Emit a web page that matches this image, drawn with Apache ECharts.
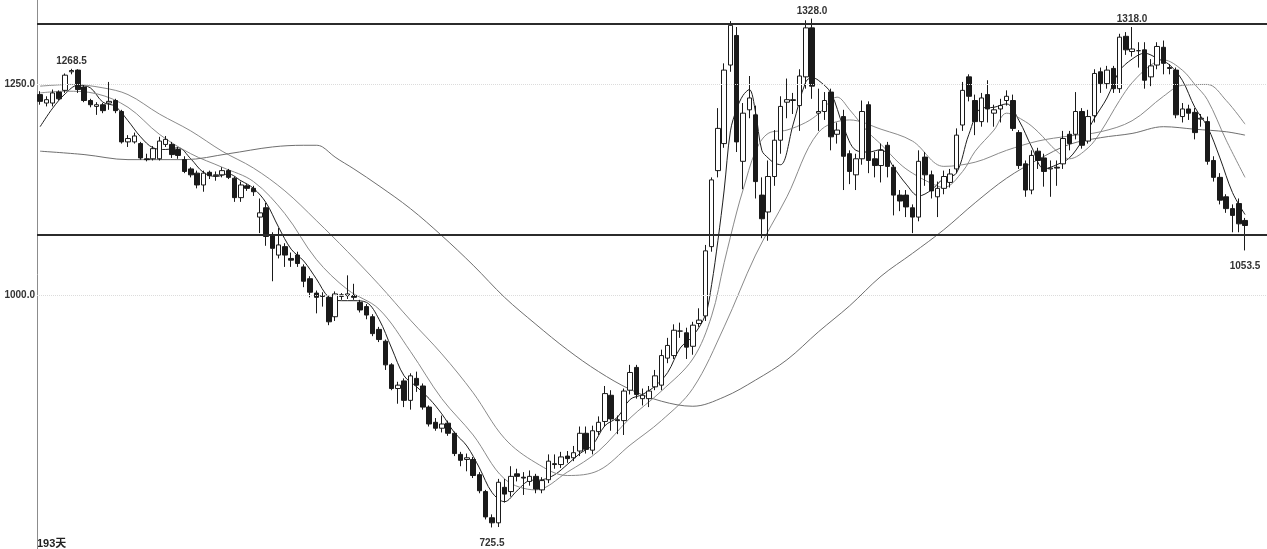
<!DOCTYPE html>
<html><head><meta charset="utf-8">
<script src="https://cdn.jsdelivr.net/npm/echarts@6/dist/echarts.min.js"></script>
<style>html,body{margin:0;padding:0;background:#fff}#c{width:1267px;height:549px}</style>
</head><body><div id="c"></div>
<script>
const open = [
1238,1228,1228,1241,1243,1265,1267,1247,1231,1224,
1226,1228,1231,1218,1182,1182,1180,1162,1162,1162,
1179,1179,1173,1161,1150,1145,1131,1146,1142,1143,
1148,1139,1116,1130,1127,1093,1104,1072,1048,1058,
1044,1048,1034,1020,1003,999,998,975,999,1000,
1000,992,987,975,960,946,918,890,899,876,
902,893,868,850,843,849,837,812,806,806,
788,768,737,731,773,768,789,785,780,786,
770,782,801,800,810,808,816,837,817,839,
851,882,853,852,888,915,878,878,892,894,
926,929,958,956,940,967,976,1058,1148,1180,
1273,1308,1159,1220,1214,1119,1099,1141,1184,1229,
1231,1225,1259,1317,1216,1218,1241,1191,1212,1168,
1143,1162,1226,1162,1154,1178,1152,1119,1119,1104,
1093,1164,1143,1117,1127,1134,1150,1202,1259,1231,
1206,1238,1216,1221,1231,1231,1193,1156,1125,1171,
1163,1150,1152,1156,1191,1191,1218,1183,1213,1265,
1251,1269,1245,1307,1289,1290,1291,1259,1273,1294,
1270,1267,1212,1221,1217,1209,1206,1160,1140,1117,
1103,1109,1089];
const close = [
1230,1232,1240,1233,1261,1266.5,1244,1231,1226,1226,
1219,1230,1219,1182,1186,1189,1163,1161,1174,1183,
1185,1167,1166,1147,1143,1131,1145,1142,1143,1148,
1140,1116,1131,1127,1123,1098,1070,1056,1060,1048,
1042,1038,1017,1004,998,1000,969,1002,1001,1002,
998,983,977,955,948,918,890,894,876,905,
894,868,848,843,848,837,813,805,808,787,
769,738,731,779,765,786,786,784,786,771,
781,804,800,809,807,814,837,818,840,850,
884,854,852,887,909,883,882,887,905,929,
941,959,958,939,965,971,1053,1137,1198,1267,
1320,1182,1216,1234,1135,1091,1141,1184,1224,1232,
1232,1260,1317,1248,1218,1231,1188,1196,1165,1147,
1162,1218,1160,1154,1172,1153,1119,1112,1105,1093,
1159,1143,1124,1127,1141,1144,1190,1243,1236,1206,
1234,1221,1220,1225,1236,1198,1154,1125,1166,1160,
1147,1151,1151,1186,1180,1218,1178,1212,1263,1251,
1267,1245,1306,1291,1292,1290,1255,1272,1295,1275,
1269,1214,1221,1216,1193,1210,1159,1140,1113,1103,
1095,1085,1083];
const low = [
1226,1224,1224,1231,1240,1262,1240,1229,1223,1214,
1216,1220,1216,1180,1176,1180,1161,1159,1160,1160,
1176,1163,1162,1145,1140,1127,1123,1138,1136,1140,
1138,1111,1111,1124,1118,1074,1059,1017,1044,1034,
1034,1034,1010,998,979,987,965,970,995,996,
995,980,972,952,945,912,888,872,868,865,
886,865,845,840,838,834,810,798,792,784,
766,735,725.5,726,755,762,780,764,775,766,
766,778,795,796,802,804,810,813,812,835,
845,840,836,835,883,878,870,868,888,888,
920,925,950,925,930,963,970,1052,1140,1175,
1265,1170,1126,1210,1115,1068,1065,1130,1168,1210,
1215,1195,1245,1233,1195,1208,1172,1180,1125,1132,
1125,1155,1145,1140,1134,1140,1095,1100,1093,1074,
1088,1130,1115,1093,1120,1128,1145,1195,1230,1190,
1200,1205,1200,1205,1225,1195,1150,1117,1120,1150,
1129,1117,1130,1150,1172,1185,1174,1180,1205,1240,
1245,1240,1240,1285,1283,1270,1245,1248,1268,1262,
1262,1210,1205,1208,1185,1200,1155,1135,1108,1098,
1075,1075,1053.5];
const high = [
1242,1236,1244,1243,1263,1268.5,1268,1250,1233,1229,
1228,1253,1233,1220,1190,1193,1182,1168,1177,1188,
1189,1182,1176,1165,1152,1148,1148,1148,1147,1152,
1150,1141,1135,1132,1130,1115,1110,1075,1080,1062,
1051,1052,1037,1023,1006,1004,1000,1005,1003,1024,
1014,995,990,978,963,948,920,898,902,908,
910,896,870,855,858,852,839,815,813,809,
791,770,741,783,783,798,795,791,793,789,
785,812,812,815,816,822,845,845,846,857,
893,888,858,890,918,918,890,893,912,936,
950,966,968,962,969,985,1060,1140,1222,1275,
1325,1318,1228,1260,1225,1140,1160,1196,1236,1257,
1240,1268,1326,1328,1245,1241,1245,1205,1220,1172,
1168,1231,1230,1170,1180,1182,1155,1125,1125,1108,
1172,1170,1148,1135,1148,1150,1198,1253,1262,1238,
1240,1255,1226,1233,1243,1238,1196,1160,1172,1175,
1168,1160,1160,1195,1195,1241,1222,1220,1268,1270,
1272,1272,1310,1312,1318,1300,1300,1280,1300,1302,
1274,1270,1228,1226,1222,1215,1212,1165,1145,1120,
1108,1115,1092];

// moving averages: [day index, value]
const ma5 = [[0,1200],[2,1222],[4,1239],[6,1249],[8,1246],[10,1229],[12,1224],[14,1207],[16,1188],[18,1175],[20,1173],[22,1175],[24,1162],[26,1146],[28,1141],[30,1144],[32,1136],[34,1127],[36,1110],[38,1081],[40,1055],[42,1041],[44,1020],[46,998],[48,994],[50,994],[52,992],[54,972],[56,938],[58,905],[60,892],[62,878],[64,860],[66,838],[68,822],[70,796],[72,767],[74,756],[76,769],[78,781],[80,782],[82,788],[84,800],[86,813],[88,823],[90,846],[92,856],[94,877],[96,883],[98,893],[100,909],[102,938],[104,952],[106,977],[107,1013],[108,1065],[109,1125],[110,1195],[111,1221],[112,1237],[113,1244],[114,1217],[115,1172],[116,1163],[117,1157],[118,1155],[120,1203],[122,1253],[123,1258],[124,1255],[126,1240],[128,1200],[130,1172],[132,1170],[134,1173],[136,1152],[138,1132],[140,1118],[142,1125],[144,1139],[146,1145],[148,1191],[150,1222],[152,1223],[154,1227],[156,1207],[158,1176],[160,1150],[162,1155],[164,1163],[166,1183],[168,1210],[170,1234],[172,1266],[174,1280],[176,1287],[178,1281],[180,1273],[182,1255],[184,1223],[186,1200],[188,1163],[190,1122],[192,1096]];
const ma10 = [[0,1240],[4,1242],[9,1239],[14,1223],[19,1191],[24,1168],[29,1152],[34,1135],[39,1097],[44,1043],[49,1007],[54,984],[59,934],[64,878],[69,835],[74,783],[79,770],[84,791],[89,816],[94,855],[99,887],[104,925],[107,976],[109,1039],[111,1099],[112,1125],[114,1171],[116,1192],[119,1196],[122,1205],[124,1215],[127,1235],[129,1220],[132,1193],[134,1179],[137,1156],[139,1145],[142,1133],[144,1128],[147,1147],[149,1171],[152,1196],[154,1216],[157,1206],[159,1194],[162,1171],[164,1162],[167,1175],[169,1194],[172,1231],[174,1252],[177,1273],[179,1279],[182,1267],[184,1250],[186,1232],[189,1184],[192,1140]];
const ma20 = [[0,1248],[5,1250],[10,1246],[14,1238],[19,1215],[24,1195],[29,1171],[34,1151],[39,1124],[44,1089],[49,1052],[54,1013],[59,971],[64,931],[69,885],[74,831],[79,802],[84,787],[89,793],[94,823],[99,852],[104,890],[109,963],[114,1048],[119,1117],[124,1193],[129,1208],[134,1197],[139,1183],[144,1153],[149,1158],[154,1172],[159,1183],[164,1189],[169,1194],[174,1207],[179,1236],[182,1249],[186,1250],[189,1231],[192,1203]];
const ma60 = [[0,1171],[7,1167],[14,1161],[23,1161],[30,1168],[37,1176],[42,1178],[44,1178],[45,1176],[47,1164],[50,1150],[54,1130],[59,1103],[64,1071],[69,1036],[74,998],[79,966],[84,936],[89,910],[94,889],[99,875],[104,869],[109,880],[114,900],[119,924],[124,957],[129,988],[134,1023],[139,1050],[144,1078],[149,1110],[154,1139],[159,1161],[164,1179],[169,1187],[174,1192],[179,1200],[184,1197],[189,1194],[192,1190]];

const levelLines = [1321.6, 1071.8];
const gridValues = [1250, 1000];
const peakLabels = [[5,1268.5,'top'],[123,1328,'top'],[174,1318,'top']];
const troughLabels = [[72,725.5,'bottom'],[192,1053.5,'bottom']];
const dayCountLabel = '193天';

const days = open.map((_, i) => i + 1);
const candles = open.map((o, i) => [o, close[i], low[i], high[i]]);

const chart = echarts.init(document.getElementById('c'), null, {renderer: 'canvas'});
const lineSeries = (name, data, color, width) => ({
  name, type: 'line', data, smooth: 0.35, showSymbol: false, symbol: 'none',
  lineStyle: {color, width}, silent: true, z: 3
});
const labelFont = {fontSize: 10, fontWeight: 'bold', color: '#333', fontFamily: 'Liberation Sans, Arial, sans-serif'};
const markLabels = peakLabels.map(([i, v, pos]) => ({
  coord: [i, v], value: v,
  label: Object.assign({show: true, position: pos, distance: 2,
    formatter: p => Number(p.value).toFixed(1)}, labelFont)
})).concat(troughLabels.map(([i, v, pos]) => ({
  coord: [i, v], value: v,
  label: Object.assign({show: true, position: pos, distance: 10,
    formatter: p => Number(p.value).toFixed(1)}, labelFont)
})));

chart.setOption({
  animation: false,
  backgroundColor: '#fff',
  grid: {left: 37, right: 0, top: 0, bottom: 0},
  xAxis: {
    type: 'category', data: days, max: 195, boundaryGap: true,
    axisLine: {show: false}, axisTick: {show: false}, axisLabel: {show: false}, splitLine: {show: false}
  },
  yAxis: {
    type: 'value', min: 700, max: 1350, interval: 50, scale: false,
    axisLine: {show: true, lineStyle: {color: '#8c8c8c', width: 1}},
    axisTick: {show: false}, splitLine: {show: false},
    axisLabel: Object.assign({margin: 2, formatter: v => gridValues.includes(v) ? v.toFixed(1) : ''}, labelFont)
  },
  graphic: [{
    type: 'text', left: 37, bottom: 0,
    style: {text: dayCountLabel, fontSize: 11, fontWeight: 'bold', fill: '#222',
      fontFamily: 'Liberation Sans, Noto Sans CJK SC, sans-serif'}
  }],
  series: [
    {
      type: 'candlestick', data: candles, barWidth: 5, z: 4,
      itemStyle: {color: '#ffffff', color0: '#1a1a1a', borderColor: '#1a1a1a', borderColor0: '#1a1a1a', borderWidth: 1},
      markLine: {
        silent: true, symbol: 'none', label: {show: false},
        data: levelLines.map(v => ({yAxis: v, lineStyle: {color: '#2b2b2b', width: 2, type: 'solid'}}))
          .concat(gridValues.map(v => ({yAxis: v, lineStyle: {color: '#dcdcdc', width: 1, type: 'dotted'}})))
      },
      markPoint: {symbol: 'circle', symbolSize: 1, itemStyle: {color: 'rgba(0,0,0,0)'}, data: markLabels}
    },
    lineSeries('MA5', ma5, '#1f1f1f', 1),
    lineSeries('MA10', ma10, '#8a8a8a', 1),
    lineSeries('MA20', ma20, '#8a8a8a', 1),
    lineSeries('MA60', ma60, '#6f6f6f', 1)
  ]
});
</script></body></html>
